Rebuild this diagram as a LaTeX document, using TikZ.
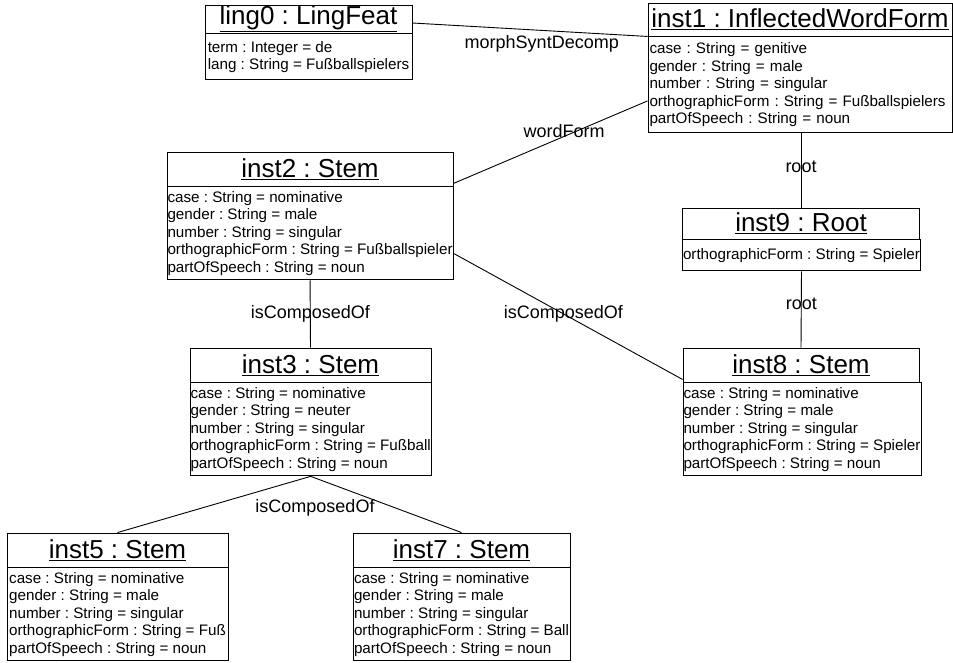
\documentclass[tikz,border=0pt]{standalone}
\usepackage{fontspec}
\setmainfont{Liberation Sans}
\usepackage{tikz}
\usetikzlibrary{positioning}
\frenchspacing

\begin{document}
\begin{tikzpicture}[x=1pt, y=-1pt,
hdr/.style={draw, line width=0.9pt, inner sep=0pt, font=\fontsize{26}{30}\selectfont},
attr/.style={draw, line width=0.9pt, anchor=north west, align=left, inner xsep=0.5pt, inner ysep=0pt, font=\fontsize{15.2}{17.5}\selectfont},
lnk/.style={line width=0.9pt},
lbl/.style={font=\fontsize{18}{21}\selectfont}
]
\useasboundingbox (0,0) rectangle (953,662);
% objects
\node[hdr, minimum width=207pt, minimum height=28pt] (ling0) at (308.5,19) {\underline{ling0 : LingFeat}};
\node[attr, minimum width=207pt, minimum height=46pt] (ling0a) at (ling0.south west) {term : Integer = de\\lang : String = Fußballspielers};
\node[hdr, minimum width=304pt, minimum height=33pt] (inst1) at (800,19.5) {\underline{inst1 : InflectedWordForm}};
\node[attr, text width=301pt, inner xsep=1.5pt, minimum height=96pt] (inst1a) at (inst1.south west) {case : String = genitive\\gender : String = male\\number : String = singular\\orthographicForm : String = Fußballspielers\\partOfSpeech : String = noun};
\node[hdr, minimum width=286pt, minimum height=34pt] (inst2) at (310,169) {\underline{inst2 : Stem}};
\node[attr, minimum width=286pt, minimum height=93pt] (inst2a) at (inst2.south west) {case : String = nominative\\gender : String = male\\number : String = singular\\orthographicForm : String = Fußballspieler\\partOfSpeech : String = noun};
\node[hdr, minimum width=237pt, minimum height=31pt] (inst9) at (801,223.5) {\underline{inst9 : Root}};
\node[attr, minimum width=237pt, minimum height=31pt] (inst9a) at (inst9.south west) {orthographicForm : String = Spieler};
\node[hdr, minimum width=241pt, minimum height=34pt] (inst3) at (310.5,365) {\underline{inst3 : Stem}};
\node[attr, minimum width=241pt, minimum height=93pt] (inst3a) at (inst3.south west) {case : String = nominative\\gender : String = neuter\\number : String = singular\\orthographicForm : String = Fußball\\partOfSpeech : String = noun};
\node[hdr, minimum width=236pt, minimum height=34pt] (inst8) at (801,365) {\underline{inst8 : Stem}};
\node[attr, minimum width=236pt, minimum height=93pt] (inst8a) at (inst8.south west) {case : String = nominative\\gender : String = male\\number : String = singular\\orthographicForm : String = Spieler\\partOfSpeech : String = noun};
\node[hdr, minimum width=221pt, minimum height=34pt] (inst5) at (117.5,550) {\underline{inst5 : Stem}};
\node[attr, minimum width=221pt, minimum height=93pt] (inst5a) at (inst5.south west) {case : String = nominative\\gender : String = male\\number : String = singular\\orthographicForm : String = Fuß\\partOfSpeech : String = noun};
\node[hdr, minimum width=217pt, minimum height=34pt] (inst7) at (461.5,550) {\underline{inst7 : Stem}};
\node[attr, minimum width=217pt, minimum height=93pt] (inst7a) at (inst7.south west) {case : String = nominative\\gender : String = male\\number : String = singular\\orthographicForm : String = Ball\\partOfSpeech : String = noun};
% links
\draw[lnk] ([yshift=-4pt]ling0.east) -- node[lbl, pos=0.55, below=1pt] (msd) {morphSyntDecomp} (inst1.south west);
\draw[lnk] ([yshift=3pt]inst2.south east) -- node[lbl, pos=0.57, yshift=5pt] (wf) {wordForm} ([yshift=-16pt]inst1a.west);
\draw[lnk] (inst9.north |- inst1a.south) -- node[lbl, pos=0.45] (rt1) {root} (inst9.north);
\draw[lnk] (inst9a.south) -- node[lbl, pos=0.42] (rt2) {root} (inst8.north);
\draw[lnk] (inst2a.south) -- node[lbl, midway] (cmp1) {isComposedOf} (inst3.north);
\draw[lnk] ([yshift=-20pt]inst2a.east) -- node[lbl, pos=0.48] (cmp2) {isComposedOf} ([yshift=3pt]inst8.south west);
\draw[lnk] (inst5.north) -- (inst3a.south) -- (inst7.north);
\node[lbl] (cmp3) at (315,508) {isComposedOf};
\end{tikzpicture}
\end{document}
